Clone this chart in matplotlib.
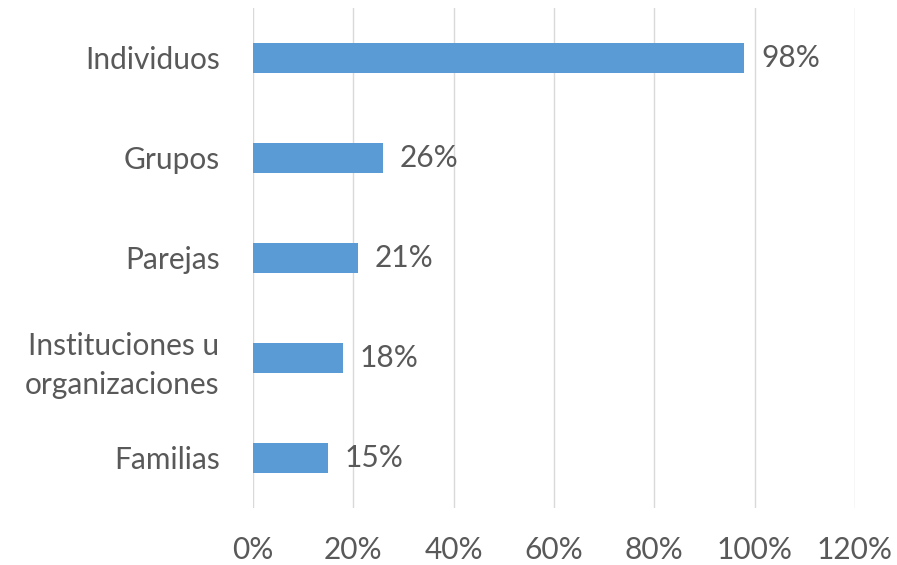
import matplotlib.pyplot as plt

categories = ["Individuos", "Grupos", "Parejas", "Instituciones u\norganizaciones", "Familias"]
values = [98, 26, 21, 18, 15]
xticks = [0, 20, 40, 60, 80, 100, 120]
xtick_labels = ["0%", "20%", "40%", "60%", "80%", "100%", "120%"]

plt.rcParams["font.family"] = ["Lato", "DejaVu Sans"]
text_color = "#595959"

fig = plt.figure(figsize=(8.97, 5.65), dpi=100)
ax = fig.add_axes([0.282, 0.101, 0.671, 0.885])

y = list(range(len(categories)))
bars = ax.barh(y, values, height=0.3, color="#5B9BD5", zorder=3)

for rect, v in zip(bars, values):
    ax.annotate(f"{v}%", xy=(rect.get_width(), rect.get_y() + rect.get_height() / 2),
                xytext=(12, 0), textcoords="offset points",
                va="center", ha="left", fontsize=21.5, color=text_color)

ax.set_xlim(0, 120)
ax.set_ylim(len(categories) - 0.5, -0.5)
ax.set_xticks(xticks)
ax.set_xticklabels(xtick_labels)
ax.set_yticks(y)
ax.set_yticklabels(categories, linespacing=1.45)

ax.grid(axis="x", color="#D9D9D9", linewidth=1, zorder=0)
ax.tick_params(axis="both", length=0, labelsize=21.5, labelcolor=text_color)
ax.tick_params(axis="x", pad=20)
ax.tick_params(axis="y", pad=24)
for s in ax.spines.values():
    s.set_visible(False)

fig.savefig("out.png", dpi=100)
